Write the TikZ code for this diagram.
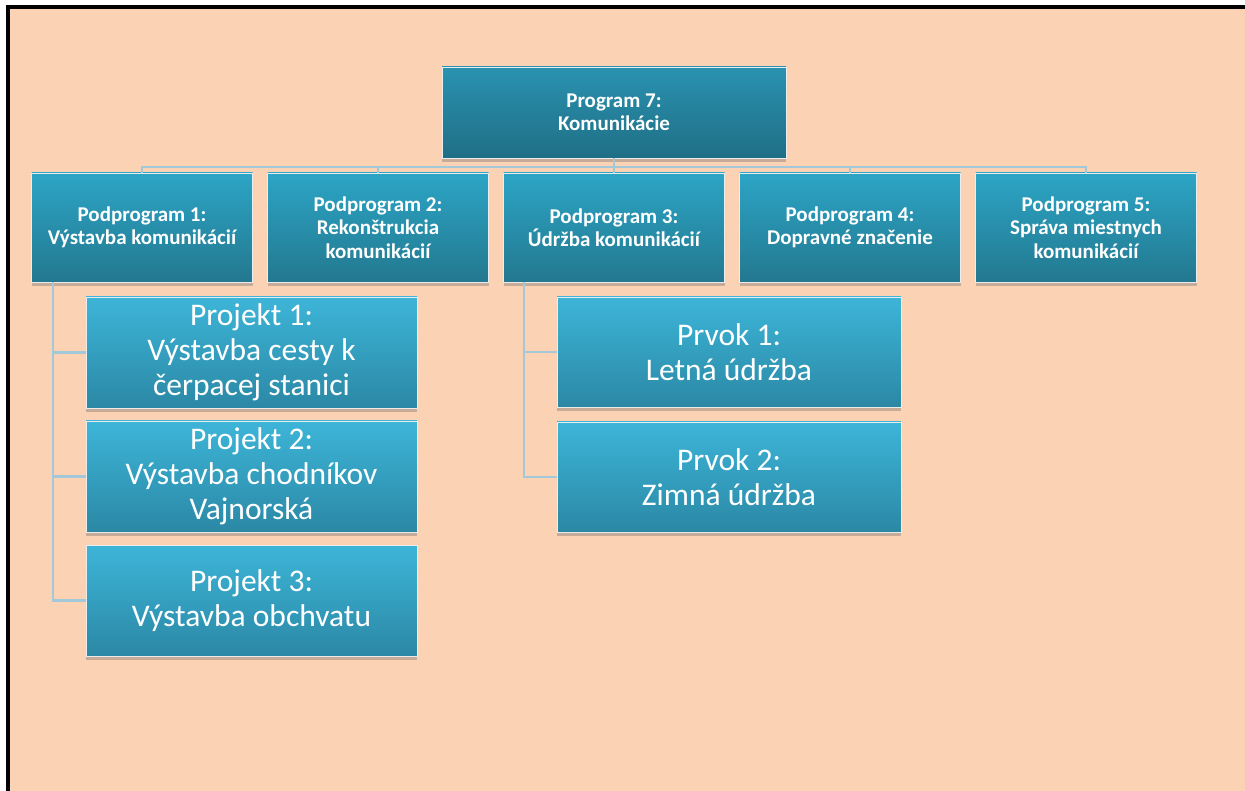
\documentclass[tikz,border=0pt]{standalone}
\usepackage{fontspec}
\setmainfont{Carlito}
\usetikzlibrary{shadows}
\definecolor{peach}{HTML}{FBD3B4}
\definecolor{conn}{HTML}{A3C8D9}
\definecolor{topT}{HTML}{2A92B0}
\definecolor{topB}{HTML}{1F6F86}
\definecolor{subT}{HTML}{2CA5C6}
\definecolor{subB}{HTML}{23788F}
\definecolor{itemT}{HTML}{3DB5D8}
\definecolor{itemB}{HTML}{2B88A5}
\tikzset{
  boxbase/.style={inner sep=0pt, align=center, text=white, draw=white!85!gray, line width=0.8pt,
    drop shadow={shadow xshift=0pt, shadow yshift=-4pt, opacity=0.35, fill=black!60}},
  topbox/.style={boxbase, top color=topT, bottom color=topB, minimum width=344pt, minimum height=91pt,
    font=\fontsize{21}{23}\selectfont\bfseries},
  subbox/.style={boxbase, top color=subT, bottom color=subB, minimum width=221pt, minimum height=109pt,
    font=\fontsize{21}{23.5}\selectfont\bfseries},
  itembox/.style={boxbase, top color=itemT, bottom color=itemB, minimum height=111pt,
    font=\fontsize{31.5}{35}\selectfont},
  link/.style={draw=conn, line width=2.5pt}
}
\begin{document}
\begin{tikzpicture}[x=1pt,y=-1pt]
\useasboundingbox (0,0) rectangle (1245,791);
\fill[white] (0,0) rectangle (1245,791);
\fill[peach] (10,9) rectangle (1245,791);
\fill[black] (6,5) rectangle (1245,9);
\fill[black] (6,5) rectangle (10,791);

\coordinate (hb) at (614,167);
\coordinate (v1) at (53,282);
\coordinate (v3) at (524,282);

\node[topbox] (top) at (614,112.5) {Program 7:\\Komunikácie};

\node[subbox] (p1) at (142,227.5) {Podprogram 1:\\Výstavba komunikácií};
\node[subbox] (p2) at (378,227.5) {Podprogram 2:\\Rekonštrukcia\\komunikácií};
\node[subbox] (p3) at (614,227.5) {Podprogram 3:\\Údržba komunikácií};
\node[subbox] (p4) at (850,227.5) {Podprogram 4:\\Dopravné značenie};
\node[subbox] (p5) at (1086,227.5) {Podprogram 5:\\Správa miestnych\\komunikácií};

\node[itembox, minimum width=331pt] (j1) at (251.5,352.5) {Projekt 1:\\Výstavba cesty k\\čerpacej stanici};
\node[itembox, minimum width=331pt] (j2) at (251.5,476.5) {Projekt 2:\\Výstavba chodníkov\\Vajnorská};
\node[itembox, minimum width=331pt] (j3) at (251.5,600.5) {Projekt 3:\\Výstavba obchvatu};

\node[itembox, minimum width=344pt, minimum height=110pt] (r1) at (729,352) {Prvok 1:\\Letná údržba};
\node[itembox, minimum width=344pt, minimum height=110pt] (r2) at (729,477) {Prvok 2:\\Zimná údržba};

\draw[link] (top.south) -- (hb);
\draw[link] (hb) -| (p1.north);
\draw[link] (hb) -| (p2.north);
\draw[link] (hb) -- (p3.north);
\draw[link] (hb) -| (p4.north);
\draw[link] (hb) -| (p5.north);

\draw[link] (v1) |- (j3.west);
\draw[link] (v1) |- (j1.west);
\draw[link] (v1) |- (j2.west);

\draw[link] (v3) |- (r2.west);
\draw[link] (v3) |- (r1.west);
\end{tikzpicture}
\end{document}
